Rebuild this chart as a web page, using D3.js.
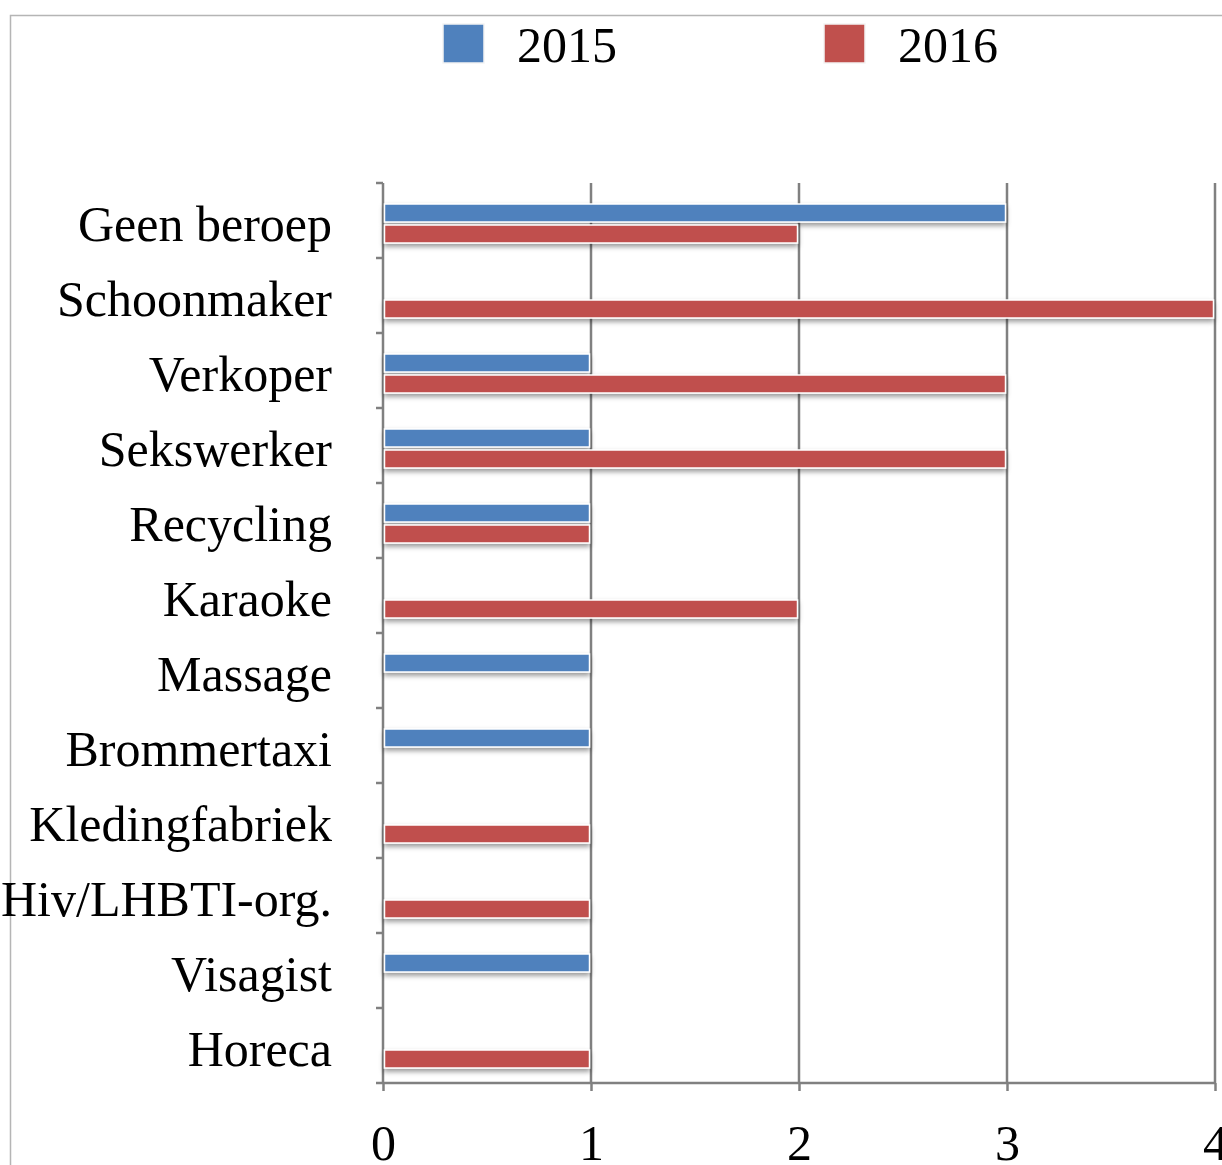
<!DOCTYPE html>
<html>
<head>
<meta charset="utf-8">
<script src="https://cdn.jsdelivr.net/npm/d3@7"></script>
<style>
  html, body { margin: 0; padding: 0; background: #fff; }
  svg { display: block; font-family: "Liberation Serif", "DejaVu Serif", serif; }
</style>
</head>
<body>
<div id="chart"></div>
<script>
var categories = ['Geen beroep', 'Schoonmaker', 'Verkoper', 'Sekswerker', 'Recycling', 'Karaoke',
    'Massage', 'Brommertaxi', 'Kledingfabriek', 'Hiv/LHBTI-org.', 'Visagist', 'Horeca'];
var seriesNames = ['2015', '2016'];
var values2015 = [3, 0, 1, 1, 1, 0, 1, 1, 0, 0, 1, 0];
var values2016 = [2, 4, 3, 3, 1, 2, 0, 0, 1, 1, 0, 1];
var xTicks = [0, 1, 2, 3, 4];
var colors = ['#4f81bd', '#c0504d'];

var width = 1222,
    height = 1165,
    plot = { left: 383, right: 1215, top: 183, bottom: 1083 },
    gridColor = '#808080';

var svg = d3.select('#chart').append('svg')
    .attr('width', width)
    .attr('height', height);

var defs = svg.append('defs');
defs.append('filter')
    .attr('id', 'shadow')
    .attr('x', '-5%').attr('y', '-40%')
    .attr('width', '110%').attr('height', '200%')
    .append('feDropShadow')
    .attr('dx', 0).attr('dy', 3)
    .attr('stdDeviation', 2.5)
    .attr('flood-color', '#000')
    .attr('flood-opacity', 0.4);

// outer frame (only top and left edges visible)
svg.append('path')
    .attr('d', 'M10.5,' + height + ' V15.5 H' + width)
    .attr('fill', 'none')
    .attr('stroke', '#b5b5b5')
    .attr('stroke-width', 1.5);

var x = d3.scaleLinear().domain([0, 4]).range([plot.left, plot.right]);
var y = d3.scaleBand().domain(categories).range([plot.top, plot.bottom]);
var ySub = d3.scaleBand().domain(seriesNames).range([21, 60]).paddingInner(3 / 21);

// vertical gridlines
svg.append('g')
    .selectAll('line')
    .data(xTicks.slice(1))
    .enter()
    .append('line')
    .attr('x1', function(d) { return x(d); })
    .attr('x2', function(d) { return x(d); })
    .attr('y1', plot.top)
    .attr('y2', plot.bottom)
    .attr('stroke', gridColor)
    .attr('stroke-width', 2.5);

// bottom axis
var xAxis = svg.append('g')
    .attr('transform', 'translate(0,' + plot.bottom + ')')
    .call(d3.axisBottom(x).tickValues(xTicks).tickFormat(d3.format('d'))
        .tickSize(8).tickPadding(33).tickSizeOuter(0));
xAxis.select('.domain').remove();
xAxis.append('line')
    .attr('x1', plot.left - 7).attr('x2', plot.right)
    .attr('stroke', gridColor).attr('stroke-width', 2.5);
xAxis.selectAll('.tick line').attr('stroke', gridColor).attr('stroke-width', 2.5);
xAxis.selectAll('.tick text')
    .attr('fill', '#000')
    .attr('font-size', 50)
    .attr('font-family', '"Liberation Serif", serif')
    .attr('dy', '0.71em');

// left axis: line, tick marks at band edges
var yAxis = svg.append('g');
yAxis.append('line')
    .attr('x1', plot.left).attr('x2', plot.left)
    .attr('y1', plot.top).attr('y2', plot.bottom)
    .attr('stroke', gridColor).attr('stroke-width', 2.5);
yAxis.selectAll('.ytick')
    .data(categories)
    .enter()
    .append('line')
    .attr('class', 'ytick')
    .attr('x1', plot.left - 7).attr('x2', plot.left)
    .attr('y1', function(d) { return y(d); })
    .attr('y2', function(d) { return y(d); })
    .attr('stroke', gridColor).attr('stroke-width', 2.5);

yAxis.selectAll('.ylabel')
    .data(categories)
    .enter()
    .append('text')
    .attr('class', 'ylabel')
    .attr('x', 332)
    .attr('y', function(d) { return y(d) + y.bandwidth() / 2 + 20; })
    .attr('text-anchor', 'end')
    .attr('font-size', 50)
    .attr('fill', '#000')
    .text(function(d) { return d; });

// bars
var rows = categories.map(function(c, i) {
    return { cat: c, values: [values2015[i], values2016[i]] };
});

var groups = svg.append('g')
    .selectAll('g')
    .data(rows)
    .enter()
    .append('g')
    .attr('transform', function(d) { return 'translate(0,' + y(d.cat) + ')'; });

groups.selectAll('rect')
    .data(function(d) {
        return seriesNames.map(function(s, j) { return { series: s, value: d.values[j], idx: j }; })
            .filter(function(e) { return e.value > 0; });
    })
    .enter()
    .append('rect')
    .attr('x', x(0) + 1.5)
    .attr('y', function(d) { return ySub(d.series); })
    .attr('width', function(d) { return x(d.value) - x(0) - 3; })
    .attr('height', ySub.bandwidth())
    .attr('fill', function(d) { return colors[d.idx]; })
    .attr('stroke', '#fff')
    .attr('stroke-width', 1.5)
    .attr('filter', 'url(#shadow)');

// legend
var legend = svg.append('g')
    .selectAll('g')
    .data(seriesNames)
    .enter()
    .append('g')
    .attr('transform', function(d, i) { return 'translate(' + (443 + i * 381) + ',0)'; });

legend.append('rect')
    .attr('x', 0).attr('y', 24)
    .attr('width', 41).attr('height', 39)
    .attr('fill', function(d, i) { return colors[i]; })
    .attr('stroke', '#f4f4f4')
    .attr('stroke-width', 1.5);

legend.append('text')
    .attr('x', 74).attr('y', 62)
    .attr('font-size', 50)
    .attr('fill', '#000')
    .text(function(d) { return d; });
</script>
</body>
</html>
